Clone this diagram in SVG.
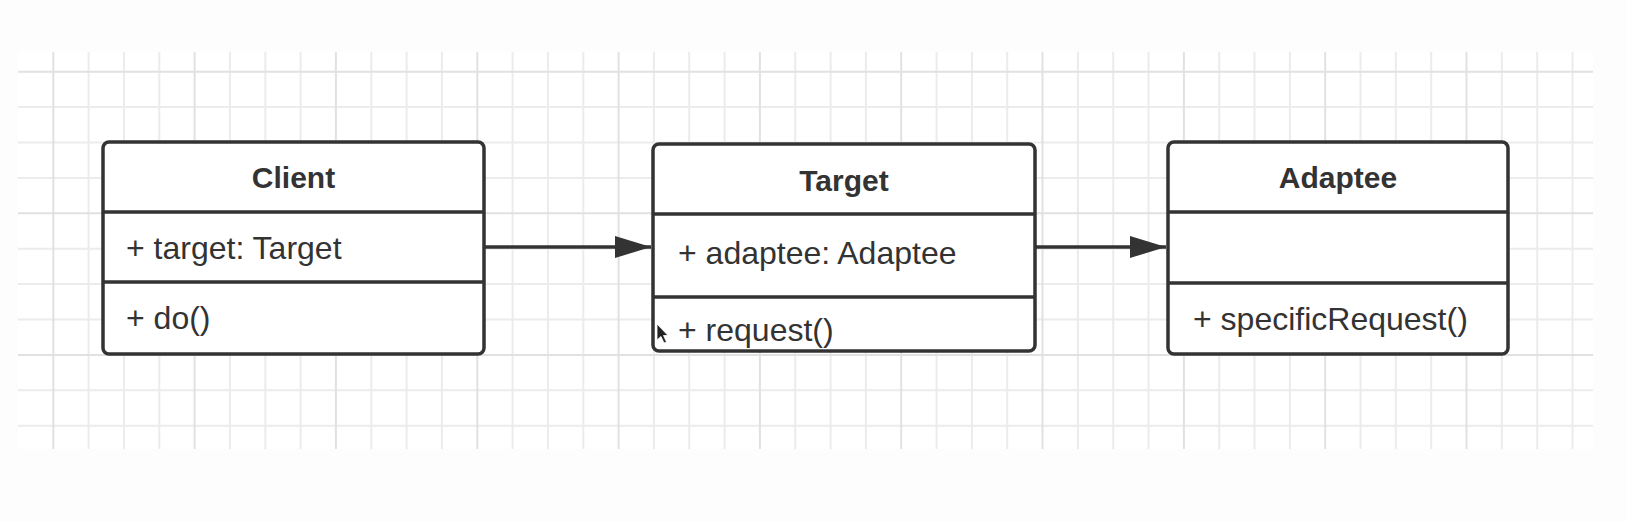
<svg xmlns="http://www.w3.org/2000/svg" width="1627" height="522" viewBox="0 0 1627 522">
  <style>
    .minor { stroke: #ececec; stroke-width: 2; fill: none; }
    .major { stroke: #e1e1e1; stroke-width: 2; fill: none; }
    .box { fill: #ffffff; stroke: #333333; stroke-width: 3.5; }
    .div { stroke: #333333; stroke-width: 3.5; fill: none; }
    .edge { stroke: #333333; stroke-width: 3.5; fill: none; }
    .title { font-family: "Liberation Sans", Arial, sans-serif; font-size: 30px; font-weight: bold; fill: #333333; text-anchor: middle; }
    .member { font-family: "Liberation Sans", Arial, sans-serif; font-size: 32px; fill: #333333; }
  </style>
  <defs>
    <marker id="arrow" markerUnits="userSpaceOnUse" markerWidth="38" markerHeight="24" refX="36" refY="11" orient="auto">
      <path d="M0,0 L36,11 L0,22 Z" fill="#333333"/>
    </marker>
  </defs>
  <rect x="0" y="0" width="1627" height="522" fill="#fdfdfd"/>
  <g id="grid">
    <rect x="18" y="52" width="1575" height="397" fill="#ffffff"/>
    <path class="minor" d="M88.6,52V449 M124,52V449 M159.3,52V449 M229.9,52V449 M265.3,52V449 M300.6,52V449 M371.3,52V449 M406.6,52V449 M441.9,52V449 M512.6,52V449 M547.9,52V449 M583.3,52V449 M653.9,52V449 M689.2,52V449 M724.6,52V449 M795.2,52V449 M830.6,52V449 M865.9,52V449 M936.6,52V449 M971.9,52V449 M1007.2,52V449 M1077.9,52V449 M1113.2,52V449 M1148.5,52V449 M1219.2,52V449 M1254.5,52V449 M1289.9,52V449 M1360.5,52V449 M1395.8,52V449 M1431.2,52V449 M1501.8,52V449 M1537.2,52V449 M1572.5,52V449 M18,107.1H1593 M18,142.5H1593 M18,177.9H1593 M18,248.7H1593 M18,284.1H1593 M18,319.5H1593 M18,390.3H1593 M18,425.7H1593"/>
    <path class="major" d="M53.3,52V449 M194.6,52V449 M335.9,52V449 M477.3,52V449 M618.6,52V449 M759.9,52V449 M901.2,52V449 M1042.5,52V449 M1183.9,52V449 M1325.2,52V449 M1466.5,52V449 M18,71.7H1593 M18,213.3H1593 M18,354.9H1593"/>
  </g>
  <g id="connectors">
    <line class="edge" x1="484" y1="247" x2="651" y2="247" marker-end="url(#arrow)"/>
    <line class="edge" x1="1035" y1="247" x2="1166" y2="247" marker-end="url(#arrow)"/>
  </g>
  <g id="client">
    <rect class="box" x="103" y="142" width="381" height="212" rx="6"/>
    <path class="div" d="M103,212H484 M103,282H484"/>
    <text class="title" x="293.5" y="188">Client</text>
    <text class="member" x="126" y="259">+ target: Target</text>
    <text class="member" x="126" y="329">+ do()</text>
  </g>
  <g id="target">
    <rect class="box" x="653" y="144" width="382" height="207" rx="6"/>
    <path class="div" d="M653,214H1035 M653,297H1035"/>
    <text class="title" x="844" y="191">Target</text>
    <text class="member" x="678" y="264">+ adaptee: Adaptee</text>
    <text class="member" x="678" y="341">+ request()</text>
  </g>
  <g id="adaptee">
    <rect class="box" x="1168" y="142" width="340" height="212" rx="6"/>
    <path class="div" d="M1168,212H1508 M1168,283H1508"/>
    <text class="title" x="1338" y="188">Adaptee</text>
    <text class="member" x="1193" y="330">+ specificRequest()</text>
  </g>
  <path id="cursor" d="M657,324 L657,340 L661,336.5 L664,343 L666.5,342 L663.5,335.5 L668,335.5 Z" fill="#222222" stroke="#ffffff" stroke-width="0.8"/>
</svg>
